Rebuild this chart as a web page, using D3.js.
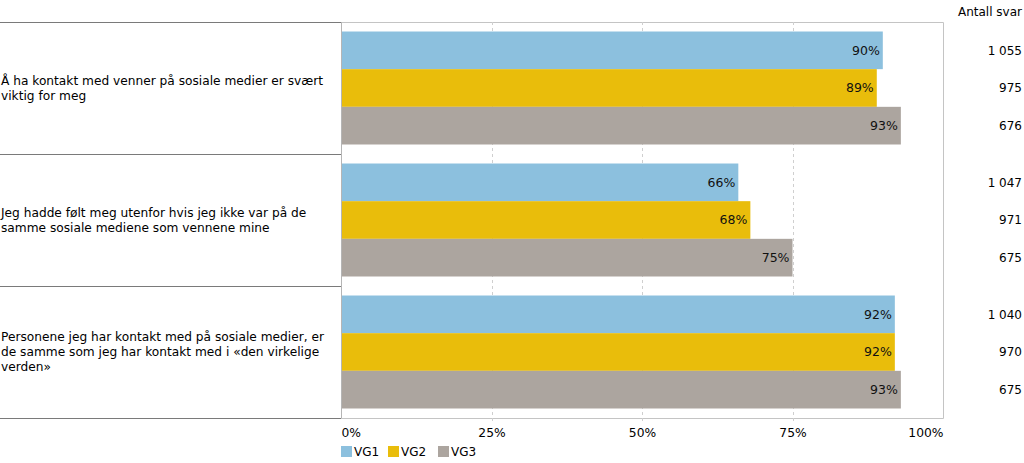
<!DOCTYPE html>
<html>
<head>
<meta charset="utf-8">
<script src="https://cdn.jsdelivr.net/npm/d3@7/dist/d3.min.js"></script>
<style>
  html, body { margin: 0; padding: 0; background: #fff; }
  svg text { font-family: "DejaVu Sans", Verdana, sans-serif; font-size: 12px; fill: #000; }
</style>
</head>
<body>
<svg id="chart" width="1024" height="463"></svg>
<script>
// ---- data ----
const categories = [
  ["Å ha kontakt med venner på sosiale medier er svært", "viktig for meg"],
  ["Jeg hadde følt meg utenfor hvis jeg ikke var på de", "samme sosiale mediene som vennene mine"],
  ["Personene jeg har kontakt med på sosiale medier, er", "de samme som jeg har kontakt med i «den virkelige", "verden»"]
];
const series = ["VG1", "VG2", "VG3"];
const vg1 = [90, 66, 92];
const vg2 = [89, 68, 92];
const vg3 = [93, 75, 93];
const counts = [
  ["1 055", "975", "676"],
  ["1 047", "971", "675"],
  ["1 040", "970", "675"]
];
const tickValues = [0, 25, 50, 75, 100];
const colors = ["#8cc0de", "#e9bd0b", "#aca59f"];
const countHeader = "Antall svar";

// ---- layout ----
const svg = d3.select("#chart");
const plot = { left: 341, right: 943, top: 22, bottom: 418 };
const values = [vg1, vg2, vg3];

const x = d3.scaleLinear().domain([0, 100]).range([plot.left, plot.right]);
const y0 = d3.scaleBand().domain(d3.range(categories.length))
  .range([plot.top, plot.bottom]).paddingInner(0.144).paddingOuter(0.072);
const y1 = d3.scaleBand().domain(series).range([0, y0.bandwidth()]).padding(0);

// plot area border (top, right, bottom)
svg.append("path")
  .attr("d", `M${plot.left},${plot.top + 0.5}H${plot.right + 0.5}V${plot.bottom + 0.5}H${plot.left}`)
  .attr("fill", "none").attr("stroke", "#c4c4c4").attr("stroke-width", 1);

// gridlines
svg.append("g").selectAll("line").data(tickValues.filter(t => t > 0 && t < 100)).join("line")
  .attr("x1", d => Math.round(x(d)) + 0.5).attr("x2", d => Math.round(x(d)) + 0.5)
  .attr("y1", plot.top).attr("y2", plot.bottom + 3)
  .attr("stroke", "#cfcfcf").attr("stroke-dasharray", "3,3");

// left category box
const catG = svg.append("g");
const seps = [plot.top].concat(d3.range(categories.length).map(i =>
  i < categories.length - 1 ? (y0(i) + y0.bandwidth() + y0(i + 1)) / 2 : plot.bottom));
catG.selectAll("line.sep").data(seps).join("line")
  .attr("class", "sep")
  .attr("x1", 0).attr("x2", plot.left)
  .attr("y1", d => Math.round(d) + 0.5).attr("y2", d => Math.round(d) + 0.5)
  .attr("stroke", "#7a7a7a").attr("stroke-width", 1.2);
catG.append("line")
  .attr("x1", plot.left + 0.5).attr("x2", plot.left + 0.5)
  .attr("y1", plot.top).attr("y2", plot.bottom)
  .attr("stroke", "#b5b5b5");

const lineH = 14.8;
categories.forEach((lines, i) => {
  const cy = y0(i) + y0.bandwidth() / 2;
  const t = catG.append("text").attr("x", 1).style("font-size", "12.2px")
    .attr("y", cy - (lines.length - 1) * lineH / 2);
  lines.forEach((ln, j) => {
    t.append("tspan").attr("x", 1).attr("dy", j === 0 ? "0.35em" : lineH).text(ln);
  });
});

// bars
const groups = svg.append("g").selectAll("g").data(d3.range(categories.length)).join("g")
  .attr("transform", i => `translate(0,${y0(i)})`);
groups.selectAll("rect").data(i => series.map((s, k) => ({ s, k, v: values[k][i] }))).join("rect")
  .attr("x", x(0) + 1).attr("y", d => y1(d.s))
  .attr("width", d => x(d.v) - x(0) - 1).attr("height", y1.bandwidth())
  .attr("fill", d => colors[d.k]);
groups.selectAll("text.val").data(i => series.map((s, k) => ({ s, k, v: values[k][i] }))).join("text")
  .attr("class", "val")
  .attr("x", d => x(d.v) - 3).attr("y", d => y1(d.s) + y1.bandwidth() / 2).attr("dy", "0.36em")
  .attr("text-anchor", "end").style("fill", "#111").style("font-size", "12.5px")
  .text(d => d.v + "%");

// counts column
svg.append("text").attr("x", 1022).attr("y", 12).attr("dy", "0.35em")
  .attr("text-anchor", "end").text(countHeader);
groups.selectAll("text.cnt").data(i => series.map((s, k) => ({ s, c: counts[i][k] }))).join("text")
  .attr("class", "cnt")
  .attr("x", 1022).attr("y", d => y1(d.s) + y1.bandwidth() / 2).attr("dy", "0.36em")
  .attr("text-anchor", "end").text(d => d.c);

// x axis labels
const xAxis = d3.axisBottom(x).tickValues(tickValues).tickFormat(d => d + "%").tickSize(0).tickPadding(0);
const ax = svg.append("g").attr("transform", `translate(0,${plot.bottom})`).call(xAxis);
ax.select(".domain").remove();
ax.selectAll("text")
  .style("font-family", '"DejaVu Sans", Verdana, sans-serif').style("font-size", "12.3px").style("fill", "#000")
  .attr("y", 14.5).attr("dy", "0.35em")
  .attr("text-anchor", d => d === 0 ? "start" : (d === 100 ? "end" : "middle"));

// legend
const legendX = [341, 388, 438];
const lg = svg.append("g").selectAll("g").data(series).join("g")
  .attr("transform", (d, i) => `translate(${legendX[i]},446)`);
lg.append("rect").attr("width", 11).attr("height", 11).attr("fill", (d, i) => colors[i]);
lg.append("text").attr("x", 13).attr("y", 6).attr("dy", "0.35em").text(d => d);
</script>
</body>
</html>
